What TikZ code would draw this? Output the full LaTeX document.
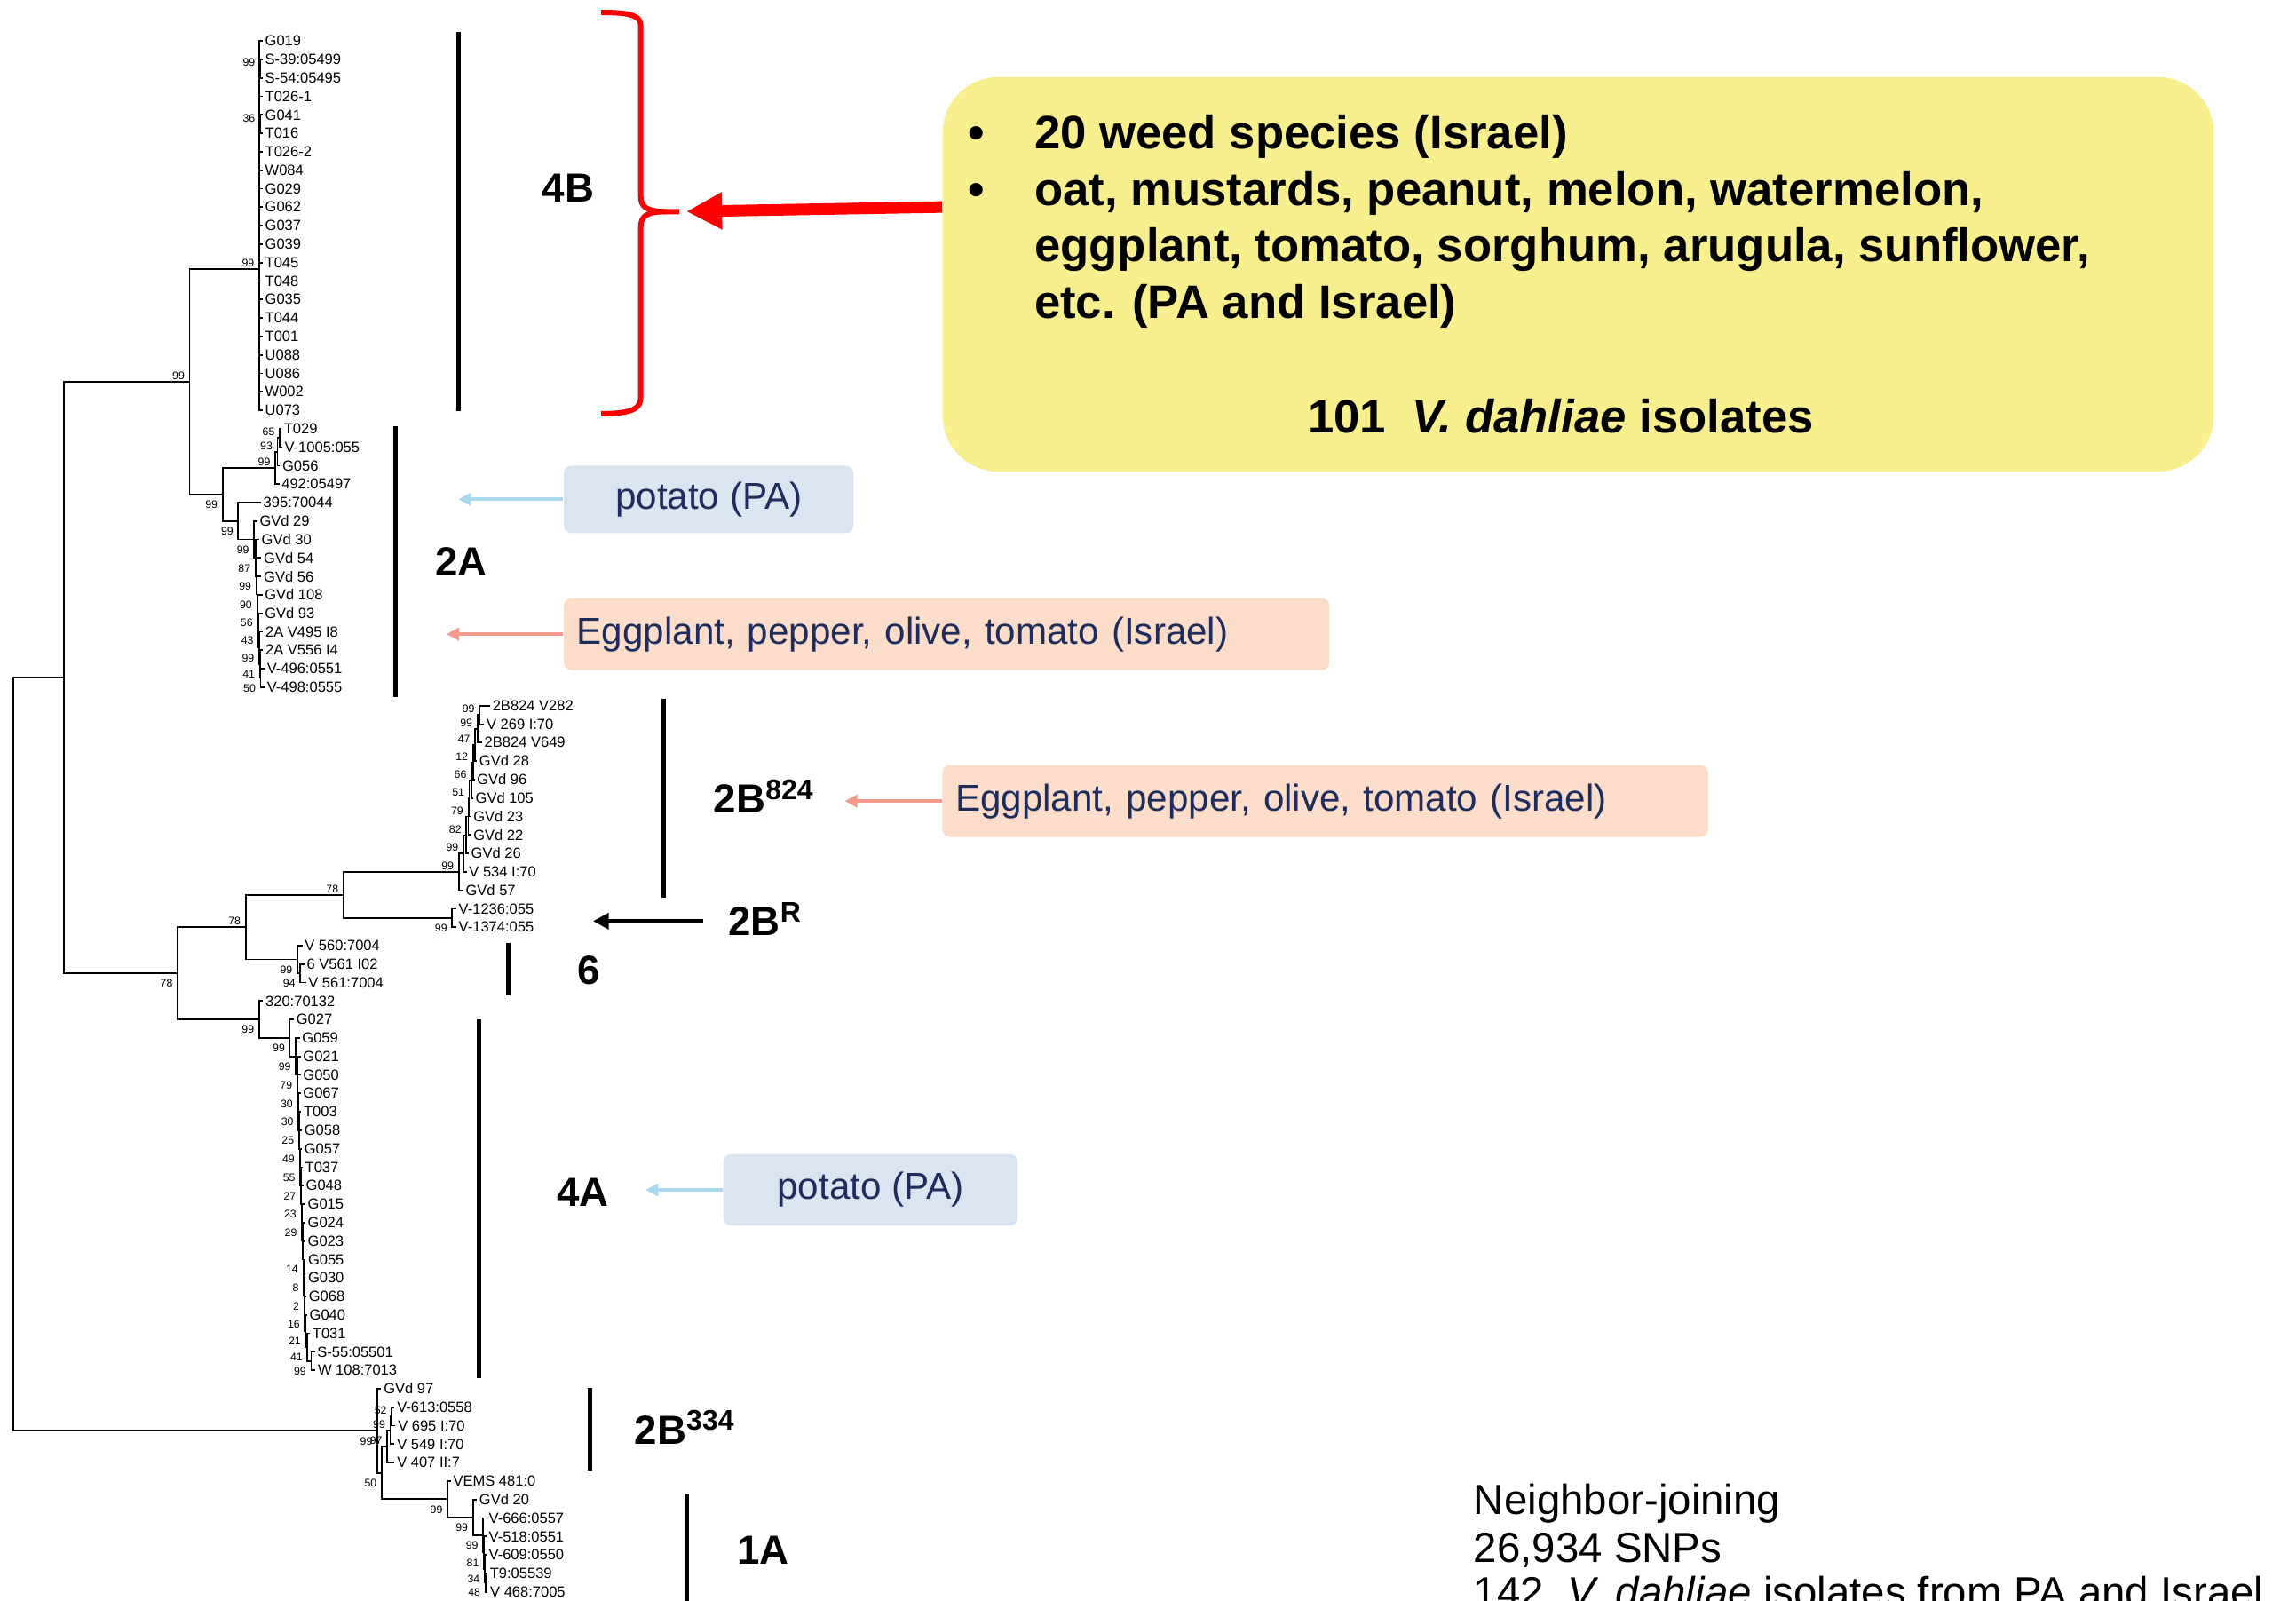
\documentclass[tikz,border=0pt]{standalone}
\usepackage{fontspec}
\setmainfont{Liberation Sans}
\usepackage{xcolor}
\usetikzlibrary{positioning,arrows.meta,calc}

\definecolor{infoyellow}{HTML}{F8F08F}
\definecolor{potatoblue}{HTML}{DBE5F1}
\definecolor{potatoarrow}{HTML}{A9D7EE}
\definecolor{eggpeach}{HTML}{FBDDC9}
\definecolor{eggarrow}{HTML}{F49A8A}
\definecolor{hosttext}{HTML}{1F2D5E}
\definecolor{bracered}{HTML}{FF0000}

\begin{document}
\begin{tikzpicture}[
        x=0.016492cm, y=-0.016492cm,
        treeline/.style={line width=0.5pt},
        leaf/.style={anchor=west, inner sep=0pt, inner xsep=0.6pt, font=\fontsize{4.7}{5}\selectfont},
        boot/.style={anchor=east, inner sep=0pt, font=\fontsize{3.5}{4}\selectfont},
        cladebar/.style={line width=1.4pt},
        cladelab/.style={inner sep=0pt, font=\fontsize{13}{15}\selectfont\bfseries},
        hostbox/.style={rounded corners=2.5pt, inner sep=0pt, font=\fontsize{12}{14}\selectfont, text=hosttext},
        hostarrow/.style={line width=1.1pt, -{Triangle[length=4pt,width=4pt]}},
        infobox/.style={fill=infoyellow, rounded corners=0.63cm, inner sep=0pt,
            minimum width=14.32cm, minimum height=4.443cm},
        infotext/.style={anchor=base west, inner sep=0pt, font=\fontsize{15}{18}\selectfont\bfseries},
        notetext/.style={anchor=base west, inner sep=0pt, font=\fontsize{13.5}{16}\selectfont}
    ]

    \fill[white] (0,0) rectangle (1568,1093);
    \useasboundingbox (0,0) rectangle (1568,1093);

    % NODES
    % leaves
    \foreach \i/\x/\t in {
        1/179.4/G019, 2/179.4/S-39:05499, 3/179.4/S-54:05495, 4/179.4/T026-1,
        5/179.4/G041, 6/179.4/T016, 7/179.4/T026-2, 8/179.4/W084,
        9/179.4/G029, 10/179.4/G062, 11/179.4/G037, 12/179.4/G039,
        13/179.4/T045, 14/179.4/T048, 15/179.4/G035, 16/179.4/T044,
        17/179.4/T001, 18/179.4/U088, 19/179.4/U086, 20/179.4/W002, 21/179.4/U073,
        22/192.2/T029, 23/192.7/V-1005:055, 24/191.2/G056, 25/190.7/492:05497,
        26/178.2/395:70044, 27/175.7/GVd 29, 28/177.0/GVd 30, 29/178.5/GVd 54,
        30/178.5/GVd 56, 31/179.2/GVd 108, 32/179.2/GVd 93, 33/179.7/2A V495 I8,
        34/179.7/2A V556 I4, 35/180.7/V-496:0551, 36/180.7/V-498:0555,
        37/334.7/2B824 V282, 38/330.6/V 269 I:70, 39/329.2/2B824 V649, 40/325.7/GVd 28,
        41/324.1/GVd 96, 42/323.1/GVd 105, 43/321.7/GVd 23, 44/321.7/GVd 22,
        45/320.1/GVd 26, 46/318.7/V 534 I:70, 47/316.4/GVd 57,
        48/311.6/V-1236:055, 49/311.6/V-1374:055,
        50/206.5/V 560:7004, 51/207.9/6 V561 I02, 52/208.9/V 561:7004,
        53/179.7/320:70132, 54/200.7/G027, 55/204.7/G059, 56/205.3/G021,
        57/205.3/G050, 58/205.3/G067, 59/205.7/T003, 60/206.2/G058,
        61/206.2/G057, 62/206.7/T037, 63/207.3/G048, 64/208.5/G015,
        65/208.5/G024, 66/208.5/G023, 67/208.7/G055, 68/208.7/G030,
        69/209.2/G068, 70/209.7/G040, 71/211.7/T031, 72/215.0/S-55:05501,
        73/215.4/W 108:7013,
        74/260.4/GVd 97, 75/269.5/V-613:0558, 76/270.1/V 695 I:70,
        77/269.5/V 549 I:70, 78/269.5/V 407 II:7,
        79/307.9/VEMS 481:0, 80/325.7/GVd 20, 81/332.2/V-666:0557,
        82/332.2/V-518:0551, 83/332.2/V-609:0550, 84/332.9/T9:05539, 85/333.1/V 468:7005}
        \node[leaf] (l\i) at (\x, {28+12.607*(\i-1)}) {\t};

    % inner nodes
    \coordinate (root) at (9, 719.8);
    \coordinate (nA) at (43.5, 462.6);
    \coordinate (nB) at (129.5, 260.6);
    \coordinate (n4B) at (177, 183.5);
    \coordinate (nt1) at (177.6, 46.9);
    \coordinate (nt2) at (177.6, 84.7);
    \coordinate (nH) at (152, 337.7);
    \coordinate (nI) at (188, 319.6);
    \coordinate (nJ) at (189.5, 308.5);
    \coordinate (nK) at (191, 299.0);
    \coordinate (nL) at (162.7, 355.8);
    \foreach \x/\y [count=\k] in {173.5/368.4, 174.5/381.0, 175/393.5, 175.5/406.0,
        176/418.4, 176.5/430.6, 177/442.4, 177.5/453.5, 178/462.9}
        \coordinate (a\k) at (\x,\y);
    \coordinate (nC) at (121.3, 664.6);
    \coordinate (nD) at (167.8, 633.1);
    \coordinate (nP) at (234.5, 611.1);
    \foreach \x/\y [count=\k] in {327.5/488.2, 326/497.6, 324.5/508.7, 323/520.5,
        322/532.7, 320.5/545.1, 319.8/557.6, 318.5/570.2, 316.5/582.7, 313.3/595.3}
        \coordinate (b\k) at (\x,\y);
    \coordinate (nQ) at (308.8, 626.8);
    \coordinate (nR) at (203.1, 655.2);
    \coordinate (nS) at (205.1, 664.6);
    \coordinate (nE) at (176.9, 696.2);
    \coordinate (nF) at (198, 708.8);
    \foreach \x/\y [count=\k] in {202/721.4, 203/734.0, 203.4/746.6, 203.8/759.2,
        204.2/771.8, 204.6/784.4, 205/797.0, 205.4/809.6, 205.8/822.2, 206.2/834.8,
        206.6/847.35, 207/859.9, 207.4/872.4, 207.8/884.8, 208.2/897.0,
        208.8/908.85, 210/919.9, 212.5/929.35}
        \coordinate (g\k) at (\x,\y);
    \coordinate (nZ) at (257.7, 977);
    \coordinate (nW) at (260.7, 1005.7);
    \coordinate (nV) at (264.5, 987.7);
    \coordinate (nV1) at (266.5, 976.7);
    \coordinate (nV2) at (267.5, 967.2);
    \foreach \x/\y [count=\k] in {305.6/1023.7, 323/1036.1, 329.9/1048.3,
        330.5/1060.2, 331/1071.2, 331.5/1080.6}
        \coordinate (e\k) at (\x,\y);

    % BRANCHES
    \draw[treeline] (root) |- (nA) (root) |- (nZ);
    \draw[treeline] (nA) |- (nB) (nA) |- (nC);
    \draw[treeline] (nB) |- (n4B) (nB) |- (nH);

    % 4B
    \foreach \i in {1,4,7,8,9,10,11,12,13,14,15,16,17,18,19,20,21}
        \draw[treeline] (n4B) |- (l\i.west);
    \draw[treeline] (n4B) |- (nt1) (n4B) |- (nt2);
    \draw[treeline] (nt1) |- (l2.west) (nt1) |- (l3.west);
    \draw[treeline] (nt2) |- (l5.west) (nt2) |- (l6.west);

    % 2A
    \draw[treeline] (nH) |- (nI) (nH) |- (nL);
    \draw[treeline] (nI) |- (nJ) (nI) |- (l25.west);
    \draw[treeline] (nJ) |- (nK) (nJ) |- (l24.west);
    \draw[treeline] (nK) |- (l22.west) (nK) |- (l23.west);
    \draw[treeline] (nL) |- (l26.west) (nL) |- (a1);
    \foreach \k in {1,...,8} {
        \pgfmathtruncatemacro{\knext}{\k+1}
        \pgfmathtruncatemacro{\leafno}{\k+26}
        \draw[treeline] (a\k) |- (l\leafno.west) (a\k) |- (a\knext);
    }
    \draw[treeline] (a9) |- (l35.west) (a9) |- (l36.west);

    % 2B824, 2BR, 6
    \draw[treeline] (nC) |- (nD) (nC) |- (nE);
    \draw[treeline] (nD) |- (nP) (nD) |- (nR);
    \draw[treeline] (nP) |- (b10) (nP) |- (nQ);
    \draw[treeline] (b1) |- (l37.west) (b1) |- (l38.west);
    \foreach \k in {2,...,10} {
        \pgfmathtruncatemacro{\kprev}{\k-1}
        \pgfmathtruncatemacro{\leafno}{\k+37}
        \draw[treeline] (b\k) |- (b\kprev) (b\k) |- (l\leafno.west);
    }
    \draw[treeline] (nQ) |- (l48.west) (nQ) |- (l49.west);
    \draw[treeline] (nR) |- (l50.west) (nR) |- (nS);
    \draw[treeline] (nS) |- (l51.west) (nS) |- (l52.west);

    % 4A
    \draw[treeline] (nE) |- (l53.west) (nE) |- (nF);
    \draw[treeline] (nF) |- (l54.west) (nF) |- (g1);
    \foreach \k in {1,...,17} {
        \pgfmathtruncatemacro{\knext}{\k+1}
        \pgfmathtruncatemacro{\leafno}{\k+54}
        \draw[treeline] (g\k) |- (l\leafno.west) (g\k) |- (g\knext);
    }
    \draw[treeline] (g18) |- (l72.west) (g18) |- (l73.west);

    % 2B334, 1A
    \draw[treeline] (nZ) |- (l74.west) (nZ) |- (nW);
    \draw[treeline] (nW) |- (nV) (nW) |- (e1);
    \draw[treeline] (nV) |- (nV1) (nV) |- (l78.west);
    \draw[treeline] (nV1) |- (nV2) (nV1) |- (l77.west);
    \draw[treeline] (nV2) |- (l75.west) (nV2) |- (l76.west);
    \foreach \k in {1,...,5} {
        \pgfmathtruncatemacro{\knext}{\k+1}
        \pgfmathtruncatemacro{\leafno}{\k+78}
        \draw[treeline] (e\k) |- (l\leafno.west) (e\k) |- (e\knext);
    }
    \draw[treeline] (e6) |- (l84.west) (e6) |- (l85.west);

    % bootstrap values, above the stem
    \foreach \n/\v in {nB/99, n4B/99, nt1/99, nt2/36, nI/99, nJ/93, nK/65,
        nD/78, nP/78, b1/99, b2/99, b3/47, b4/12, b5/66, b6/51, b7/79, b8/82,
        b9/99, b10/99, nV2/52, nV1/99, nV/97}
        \path (\n) ++(-3,-4) node[boot] (bs_\n) {\v};
    % bootstrap values, below the stem
    \foreach \n/\v in {nH/99, nL/99, a1/99, a2/87, a3/99, a4/90, a5/56, a6/43,
        a7/99, a8/41, a9/50, nC/78, nQ/99, nR/99, nS/94, nE/99, nF/99,
        g1/99, g2/79, g3/30, g4/30, g5/25, g6/49, g7/55, g8/27, g9/23, g10/29,
        g12/14, g13/8, g14/2, g15/16, g16/21, g17/41, g18/99,
        nZ/99, nW/50, e1/99, e2/99, e3/99, e4/81, e5/34, e6/48}
        \path (\n) ++(-3,7) node[boot] (bs_\n) {\v};

    % CLADES
    \draw[cladebar] (313, 22) -- (313, 281);
    \draw[cladebar] (270, 291) -- (270, 476);
    \draw[cladebar] (453, 477) -- (453, 613);
    \draw[cladebar] (347, 644) -- (347, 680);
    \draw[cladebar] (327, 696) -- (327, 941);
    \draw[cladebar] (403, 948) -- (403, 1005);
    \draw[cladebar] (469, 1020) -- (469, 1100);

    \node[cladelab, anchor=base] (clade_4B) at (388, 138) {4B};
    \node[cladelab, anchor=base] (clade_2A) at (315, 393) {2A};
    \node[cladelab, anchor=base west] (clade_2B824) at (487, 555) {2B\textsuperscript{824}};
    \node[cladelab, anchor=base west] (clade_2BR) at (497, 639) {2B\textsuperscript{R}};
    \node[cladelab, anchor=base] (clade_6) at (402, 672) {6};
    \node[cladelab, anchor=base] (clade_4A) at (398, 824) {4A};
    \node[cladelab, anchor=base west] (clade_2B334) at (433, 986) {2B\textsuperscript{334}};
    \node[cladelab, anchor=base] (clade_1A) at (521, 1068) {1A};

    % brace round 4B
    \draw[bracered, line width=1.7pt] (410.5,8.5) .. controls (432,8.5) and (437.6,11) .. (437.6,18)
        -- (437.6,134) .. controls (437.6,141) and (441,144.5) .. (455,144.5) -- (463.9,144.5);
    \draw[bracered, line width=1.7pt] (455,144.5) .. controls (441,144.5) and (437.6,148) .. (437.6,155)
        -- (437.6,271) .. controls (437.6,279) and (432,282.5) .. (410.5,282.5);
    \coordinate (brace_tip) at (463.9, 144.5);

    % HOSTS
    \node[infobox] (info_box) at (1077.8, 187.3) {};
    \node[infotext, anchor=base] (bullet_1) at (667, 101.5) {•};
    \node[infotext] (weed_line) at (706, 101.5) {20 weed species (Israel)};
    \node[infotext, anchor=base] (bullet_2) at (667, 140.5) {•};
    \node[infotext] (crop_line1) at (706, 140.5) {oat, mustards, peanut, melon, watermelon,};
    \node[infotext] (crop_line2) at (706, 178.5) {eggplant, tomato, sorghum, arugula, sunflower,};
    \node[infotext] (crop_line3) at (706, 217.5) {etc. (PA and Israel)};
    \node[infotext, anchor=base] (isolate_line) at (1066, 295.5) {101~~\textit{V. dahliae} isolates};

    \node[hostbox, fill=potatoblue, minimum width=3.265cm, minimum height=0.759cm] (potato_1) at (484, 341) {potato (PA)};
    \node[hostbox, fill=eggpeach, minimum height=0.808cm, text width=8.33cm, align=left, inner xsep=0.148cm] (egg_1) at (646.5, 433) {Eggplant, pepper, olive, tomato (Israel)};
    \node[hostbox, fill=eggpeach, minimum height=0.808cm, text width=8.33cm, align=left, inner xsep=0.148cm] (egg_2) at (905, 547) {Eggplant, pepper, olive, tomato (Israel)};
    \node[hostbox, fill=potatoblue, minimum width=3.315cm, minimum height=0.808cm] (potato_2) at (594.5, 812.5) {potato (PA)};

    \coordinate (potato_1_tip) at (313, 341);
    \coordinate (egg_1_tip) at (305, 433);
    \coordinate (egg_2_tip) at (577, 547);
    \coordinate (potato_2_tip) at (441, 812.5);
    \coordinate (tip_2BR) at (405, 629);

    % ARROWS
    \draw[hostarrow, potatoarrow] (potato_1.west) -- (potato_1_tip);
    \draw[hostarrow, eggarrow] (egg_1.west) -- (egg_1_tip);
    \draw[hostarrow, eggarrow] (egg_2.west) -- (egg_2_tip);
    \draw[hostarrow, potatoarrow] (potato_2.west) -- (potato_2_tip);
    \draw[line width=1.3pt, -{Triangle[length=5pt,width=5pt]}, shorten <=8pt] (clade_2BR.west |- tip_2BR) -- (tip_2BR);
    \draw[bracered, line width=3.7pt, -{Triangle[length=11.4pt,width=11.2pt]}, shorten >=2.3pt]
        ($(info_box.north west)!0.33!(info_box.south west)$) -- (brace_tip);

    % NOTE
    \node[notetext] (method_line) at (1006, 1034) {Neighbor-joining};
    \node[notetext] (snp_line) at (1006, 1067) {26,934 SNPs};
    \node[notetext] (count_line) at (1006, 1097) {142~~\textit{V. dahliae} isolates from PA and Israel};
\end{tikzpicture}
\end{document}
